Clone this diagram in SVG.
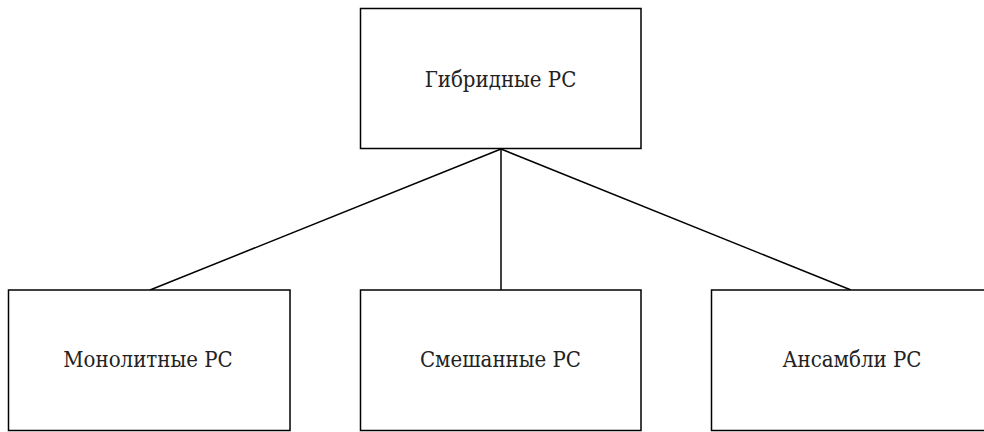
<svg xmlns="http://www.w3.org/2000/svg" width="984" height="432" viewBox="0 0 984 432">
<style>
.box{fill:#fff;stroke:#000;stroke-width:1.5}
.lbl{font-family:'DejaVu Serif Condensed','DejaVu Serif',serif;font-stretch:condensed;font-size:22px;fill:#222;text-anchor:middle}
.edge{stroke:#000;stroke-width:1.5;fill:none}
</style>
<rect width="984" height="432" fill="#fff"/>
<g id="connectors">
<line class="edge" x1="501" y1="149" x2="150" y2="290"/>
<line class="edge" x1="501" y1="149" x2="501" y2="290"/>
<line class="edge" x1="501" y1="149" x2="851" y2="290"/>
</g>
<g id="node-hybrid">
<rect class="box" x="360.5" y="8.5" width="280.5" height="140"/>
<text class="lbl" x="500.5" y="86.5">Гибридные РС</text>
</g>
<g id="node-mono">
<rect class="box" x="8.5" y="290" width="281.5" height="140.5"/>
<text class="lbl" x="148" y="367">Монолитные РС</text>
</g>
<g id="node-mixed">
<rect class="box" x="360.5" y="290" width="280.5" height="140.5"/>
<text class="lbl" x="500.5" y="367">Смешанные РС</text>
</g>
<g id="node-ensemble">
<rect class="box" x="711.5" y="290" width="280.5" height="140.5"/>
<text class="lbl" x="852" y="367">Ансамбли РС</text>
</g>
</svg>
